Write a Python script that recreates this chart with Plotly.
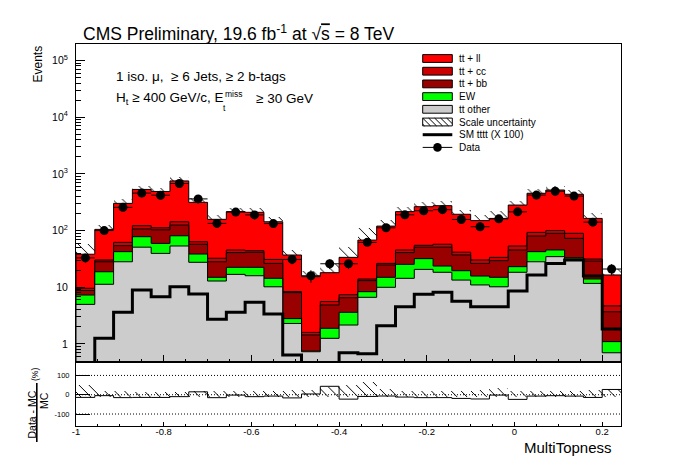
import numpy as np
import plotly.graph_objects as go

# ---------------- data ----------------
x_start = -1.0
n_bins = 29
bin_width = 1.2 / 28

tt_other = [5.0, 11.3, 28.2, 51, 39.6, 53.5, 27.6, 12.9, 16.9, 16, 10.2, 2.3, 0.73, 1.26, 2.16,
            6.66, 10, 14.4, 20.7, 18.4, 13.4, 11, 10.2, 18.4, 28.2, 34.7, 31.5, 11.7, 0.7]
ew = [2.3, 7.5, 14.3, 27, 19.9, 27.5, 11, 2.1, 5.6, 6.5, 4.2, 0.5, 0.02, 0.63, 1.46,
      1.7, 5, 11, 11.3, 5.3, 6.2, 4.8, 4.8, 4.7, 14.3, 10.8, 1.7, 2.3, 0.4]
tt_bb = [1.5, 9.4, 11.8, 29, 43.5, 44, 18.8, 13.2, 18.4, 19.1, 12, 5.25, 0.69, 2.98, 2.93,
         4.74, 9.7, 15.5, 19, 27.3, 17.5, 10.6, 14.5, 22.4, 37.8, 44, 39.8, 15, 2.6]
tt_cc = [0.8, 2.1, 7.7, 15, 9, 18, 6.2, 4.3, 4.6, 2.7, 4.6, 0.35, 0.16, 0.73, 0.85,
         0.9, 1.7, 4.6, 4, 6.4, 4.5, 3.9, 4.2, 8, 12.7, 10.5, 16.5, 2.5, 1.0]
tt_ll = [28.7, 74.7, 240, 410, 378, 609, 251, 125.5, 170.5, 165.7, 112, 28.7, 13.8, 12.5, 26.3,
         54, 93.6, 170.5, 209, 217.6, 152.4, 119.7, 130.3, 228.5, 362, 420, 347.5, 132.5, 11.8]
data = [33, 100, 257, 458, 421, 677, 362, 134, 212, 189, 133, 31, 16, 26, 26,
        62, 112, 190, 224, 234, 157, 117, 161, 214, 423, 494, 406, 141, 21]
tttt_x100 = [0.3, 1.26, 3.62, 8.96, 6.8, 10.2, 7.6, 2.72, 3.62, 5.44, 3.38, 0.64, 0.2, 0.2, 0.70,
             0.67, 2.1, 4.55, 7.5, 8.15, 5.7, 4.55, 4.55, 8.6, 16.5, 26.4, 30.3, 15.8, 1.84]
scale_up_pct = [50, 20, 18, 15, 15, 15, 20, 20, 18, 18, 20, 25, 25, 40, 50,
                65, 30, 20, 20, 20, 20, 25, 35, 20, 20, 20, 20, 25, 30]
scale_down_pct = [12, 15, 15, 13, 13, 13, 15, 15, 15, 15, 15, 15, 15, 15, 15,
                  15, 15, 15, 15, 15, 15, 15, 15, 15, 15, 15, 15, 15, 15]

y_tick_vals = [1, 10, 100, 1000, 10000, 100000]
y_tick_text = ["1", "10", "10<sup>2</sup>", "10<sup>3</sup>", "10<sup>4</sup>", "10<sup>5</sup>"]
x_tick_vals = [-1, -0.8, -0.6, -0.4, -0.2, 0, 0.2]
x_tick_text = ["-1", "-0.8", "-0.6", "-0.4", "-0.2", "0", "0.2"]
ratio_tick_vals = [-100, 0, 100]
ratio_tick_text = ["-100", "0", "100"]

legend_labels = ["tt + ll", "tt + cc", "tt + bb", "EW", "tt other",
                 "Scale uncertainty", "SM tttt (X 100)", "Data"]
stack_colors = ["#cccccc", "#00ff00", "#990000", "#cc0000", "#ff0000"]

# ---------------- derived ----------------
edges = x_start + bin_width * np.arange(n_bins + 1)
centers = 0.5 * (edges[:-1] + edges[1:])
components = np.array([tt_other, ew, tt_bb, tt_cc, tt_ll], dtype=float)
cum = np.cumsum(components, axis=0)
total = cum[-1]
data_a = np.array(data, dtype=float)
up = np.array(scale_up_pct, dtype=float)
dn = np.array(scale_down_pct, dtype=float)
ratio = (data_a - total) / total * 100.0

# ---------------- geometry ----------------
W, H = 696, 472
L, R, T, B = 76, 621, 44, 426
SPLIT = 362.3
f_split = (B - SPLIT) / (B - T)


def px2x(px):
    return (px - L) / (R - L)


def px2y(py):
    return (B - py) / (B - T)


def step(vals, floor=None):
    xs = list(edges)
    ys = list(vals) + [vals[-1]]
    if floor is not None:
        xs = [edges[0]] + xs + [edges[-1]]
        ys = [floor] + ys + [floor]
    return xs, ys


fig = go.Figure()

# stacked histogram (cumulative levels, drawn top to bottom)
for lvl in range(4, -1, -1):
    xs, ys = step(cum[lvl], floor=1e-3)
    fig.add_trace(go.Scatter(x=xs, y=ys, mode="lines", line_shape="hv",
                             line=dict(color="black", width=1), fill="toself",
                             fillcolor=stack_colors[lvl], showlegend=False,
                             hoverinfo="skip", xaxis="x", yaxis="y"))

# scale uncertainty hatch (main)
hatch = dict(shape="\\", fgcolor="black", bgcolor="rgba(0,0,0,0)", size=7, solidity=0.14, fgopacity=1)
fig.add_trace(go.Bar(x=centers, y=total * (up + dn) / 100.0, base=total * (1 - dn / 100.0),
                     width=bin_width, marker=dict(color="rgba(0,0,0,0)", line=dict(width=0), pattern=hatch),
                     showlegend=False, hoverinfo="skip", xaxis="x", yaxis="y"))

# SM tttt x100
xs, ys = step(tttt_x100)
fig.add_trace(go.Scatter(x=xs, y=ys, mode="lines", line_shape="hv",
                         line=dict(color="black", width=3), showlegend=False,
                         hoverinfo="skip", xaxis="x", yaxis="y"))

# data
fig.add_trace(go.Scatter(x=centers, y=data_a, mode="markers",
                         marker=dict(color="black", size=9),
                         error_x=dict(type="constant", value=bin_width / 2, width=0, thickness=1, color="black"),
                         error_y=dict(type="data", array=np.sqrt(data_a), width=0, thickness=1, color="black"),
                         showlegend=False, hoverinfo="skip", xaxis="x", yaxis="y"))

# ratio panel: hatch band and ratio line
fig.add_trace(go.Bar(x=centers, y=up + dn, base=-dn, width=bin_width,
                     marker=dict(color="rgba(0,0,0,0)", line=dict(width=0), pattern=hatch),
                     showlegend=False, hoverinfo="skip", xaxis="x2", yaxis="y2"))
xs, ys = step(ratio)
fig.add_trace(go.Scatter(x=xs, y=ys, mode="lines", line_shape="hv",
                         line=dict(color="black", width=1), showlegend=False,
                         hoverinfo="skip", xaxis="x2", yaxis="y2"))

font = "Liberation Sans, Arial, sans-serif"
minor_log = [m * 10 ** k for k in range(-1, 6) for m in range(2, 10)]

fig.update_layout(
    width=W, height=H, margin=dict(l=L, r=W - R, t=T, b=H - B),
    paper_bgcolor="white", plot_bgcolor="white", barmode="overlay", bargap=0,
    showlegend=False, font=dict(family=font, color="black"),
    xaxis=dict(domain=[0, 1], anchor="y", range=[edges[0], edges[-1]], showticklabels=False,
               showline=True, linecolor="black", linewidth=1, mirror=True, showgrid=False, zeroline=False,
               ticks="inside", tickvals=x_tick_vals, ticklen=7, tickcolor="black",
               minor=dict(ticks="inside", dtick=0.05, tick0=-1, ticklen=3.5, tickcolor="black", showgrid=False)),
    yaxis=dict(domain=[f_split, 1], anchor="x", type="log", range=[-0.323, 5.291],
               showline=True, linecolor="black", linewidth=1, mirror=True, showgrid=False, zeroline=False,
               ticks="inside", tickvals=y_tick_vals, ticktext=y_tick_text, ticklen=9, tickcolor="black",
               tickfont=dict(size=10.5, family=font), ticklabelstandoff=5,
               minor=dict(ticks="inside", tickvals=minor_log, ticklen=4.5, tickcolor="black", showgrid=False)),
    xaxis2=dict(domain=[0, 1], anchor="y2", range=[edges[0], edges[-1]], matches="x",
                showline=True, linecolor="black", linewidth=1, mirror=True, showgrid=False, zeroline=False,
                ticks="inside", tickvals=x_tick_vals, ticktext=x_tick_text, ticklen=4, tickcolor="black",
                tickfont=dict(size=9.5, family=font), ticklabelstandoff=-3,
                minor=dict(ticks="inside", dtick=0.05, tick0=-1, ticklen=2, tickcolor="black", showgrid=False)),
    yaxis2=dict(domain=[0, f_split], anchor="x2", range=[-162, 168],
                showline=True, linecolor="black", linewidth=1, mirror=True, showgrid=False, zeroline=False,
                ticks="inside", tickvals=ratio_tick_vals, ticktext=ratio_tick_text, ticklen=14, tickcolor="black",
                tickfont=dict(size=7.5, family=font), ticklabelstandoff=4),
)

shapes = []
for v in ratio_tick_vals:
    shapes.append(dict(type="line", xref="paper", yref="y2", x0=0, x1=1, y0=v, y1=v,
                       line=dict(color="black", width=1, dash="1px,2px")))

ann = []


def text(px, py, s, size, xanchor="left", yanchor="middle", angle=0):
    ann.append(dict(x=px2x(px), y=px2y(py), xref="paper", yref="paper", text=s, showarrow=False,
                    xanchor=xanchor, yanchor=yanchor, textangle=angle,
                    font=dict(size=size, family=font, color="black")))


text(81, 33, "CMS Preliminary, 19.6 fb<sup>-1</sup> at √<span style='text-decoration:overline'>s</span> = 8 TeV", 17.5)
text(114, 77, "1 iso. μ,  ≥ 6 Jets, ≥ 2 b-tags", 13.5)
text(114, 99, "H<sub>t</sub> ≥ 400 GeV/c, E", 13.5)
text(223, 94, "miss", 8.5)
text(221, 108, "t", 8.5)
text(254, 99, "≥ 30 GeV", 13.5)
text(37, 44, "Events", 12, xanchor="center", yanchor="top", angle=-90)
text(614, 447, "MultiTopness", 15, xanchor="right")
text(31.5, 415, "Data - MC", 10.5, xanchor="center", angle=-90)
text(44, 401, "MC", 10.5, xanchor="center", angle=-90)
text(35, 375, "(%)", 8.5, xanchor="center", angle=-90)
shapes.append(dict(type="line", xref="paper", yref="paper", x0=px2x(36.8), x1=px2x(36.8),
                   y0=px2y(383), y1=px2y(442), line=dict(color="black", width=1.6)))

# legend
bx0, bx1, bh = 422.7, 452.3, 3.9
rows = [58.5 + 12.7 * i for i in range(8)]
fill_order = ["#ff0000", "#cc0000", "#990000", "#00ff00", "#cccccc"]
for i, col in enumerate(fill_order):
    shapes.append(dict(type="rect", xref="paper", yref="paper", x0=px2x(bx0), x1=px2x(bx1),
                       y0=px2y(rows[i] + bh), y1=px2y(rows[i] - bh), fillcolor=col,
                       line=dict(color="black", width=1)))
# hatched legend box
r5 = rows[5]
yt, yb = r5 - bh, r5 + bh
shapes.append(dict(type="rect", xref="paper", yref="paper", x0=px2x(bx0), x1=px2x(bx1),
                   y0=px2y(yb), y1=px2y(yt), fillcolor="white", line=dict(color="black", width=1)))
path = ""
hh = yb - yt
for k in range(-2, 8):
    xa = bx0 + k * 6.0
    xb = xa + hh
    ya, yb2 = yt, yb
    if xa < bx0:
        ya = yt + (bx0 - xa)
        xa = bx0
    if xb > bx1:
        yb2 = yb - (xb - bx1)
        xb = bx1
    if xb > xa and yb2 > ya:
        path += f"M{px2x(xa)},{px2y(ya)} L{px2x(xb)},{px2y(yb2)} "
shapes.append(dict(type="path", xref="paper", yref="paper", path=path, line=dict(color="black", width=1)))
# tttt line
shapes.append(dict(type="line", xref="paper", yref="paper", x0=px2x(bx0), x1=px2x(bx1),
                   y0=px2y(rows[6]), y1=px2y(rows[6]), line=dict(color="black", width=3)))
# data
shapes.append(dict(type="line", xref="paper", yref="paper", x0=px2x(bx0), x1=px2x(bx1),
                   y0=px2y(rows[7]), y1=px2y(rows[7]), line=dict(color="black", width=1)))
cx, cr = 0.5 * (bx0 + bx1), 4.3
shapes.append(dict(type="circle", xref="paper", yref="paper", x0=px2x(cx - cr), x1=px2x(cx + cr),
                   y0=px2y(rows[7] + cr), y1=px2y(rows[7] - cr), fillcolor="black",
                   line=dict(color="black", width=0)))
for i, lab in enumerate(legend_labels):
    text(457, rows[i], lab, 10)

fig.update_layout(shapes=shapes, annotations=ann)
fig.write_html("out.html", config={"displayModeBar": False},
               post_script="document.body.style.margin='0';document.body.style.padding='0';")
